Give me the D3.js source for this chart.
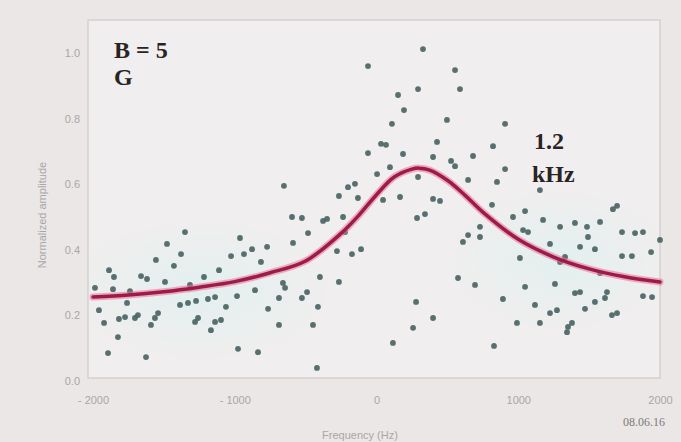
<!DOCTYPE html>
<html><head><meta charset="utf-8">
<script src="https://cdn.jsdelivr.net/npm/d3@7/dist/d3.min.js"></script>
<style>html,body{margin:0;padding:0;background:#ebe7e6;}svg{display:block;}</style>
</head><body>
<svg id="chart" width="681" height="442"></svg>
<script>
// Scatter data: frequency (Hz) and normalized amplitude
const freqHz = [-1351,-1478,-1556,-1379,-1429,-1887,-1852,-1661,-1619,-1492,-1986,-1859,-1217,-1111,-963,-1026,-935,-878,-772,-815,-653,-984,-857,-688,-765,-1958,-1760,-1386,-1330,-1273,-1189,-1139,-1062,-1922,-1817,-1774,-1704,-1683,-1591,-1563,-1541,-1280,-1259,-1139,-1097,-1168,-1824,-1894,-1626,-977,-836,-688,-596,-526,-377,-349,-236,-483,-589,-279,-173,-109,-399,-265,-660,-645,-490,-526,-413,-448,-420,328,-60,554,589,152,293,194,497,109,907,822,427,32,67,-60,187,399,526,554,681,95,4,907,850,646,1153,-201,-152,-265,-131,166,399,448,1668,1697,1048,963,815,286,342,279,399,258,116,575,610,646,695,829,1175,1295,1400,1485,1577,1492,1732,1824,1880,2000,730,730,1034,1069,1224,1436,1541,1732,1802,1937,1012,1330,1048,1259,1400,1436,1626,1612,1880,1944,892,1118,1224,1273,1471,1541,1661,1697,991,1153,1351,1379,1344,293,46,-1739,-1316,1295,-222,1577];
const amplitude = [0.454,0.418,0.369,0.387,0.351,0.338,0.317,0.320,0.311,0.302,0.284,0.280,0.317,0.338,0.436,0.381,0.387,0.402,0.409,0.363,0.595,0.259,0.277,0.253,0.220,0.216,0.238,0.232,0.238,0.244,0.250,0.256,0.226,0.177,0.189,0.195,0.192,0.201,0.171,0.192,0.207,0.180,0.192,0.180,0.186,0.155,0.134,0.085,0.073,0.098,0.088,0.171,0.500,0.497,0.488,0.494,0.500,0.451,0.421,0.396,0.387,0.402,0.317,0.302,0.299,0.284,0.271,0.253,0.226,0.171,0.040,1.012,0.960,0.948,0.890,0.872,0.890,0.826,0.796,0.784,0.784,0.716,0.729,0.723,0.720,0.695,0.692,0.683,0.671,0.655,0.686,0.652,0.631,0.646,0.607,0.613,0.582,0.591,0.601,0.564,0.558,0.561,0.555,0.549,0.524,0.534,0.518,0.500,0.537,0.497,0.509,0.241,0.192,0.162,0.116,0.314,0.424,0.445,0.293,0.107,0.491,0.470,0.482,0.470,0.485,0.439,0.454,0.451,0.454,0.430,0.470,0.439,0.460,0.454,0.418,0.409,0.402,0.381,0.381,0.393,0.375,0.378,0.287,0.296,0.268,0.271,0.271,0.253,0.259,0.256,0.250,0.232,0.207,0.216,0.220,0.241,0.201,0.207,0.177,0.177,0.165,0.177,0.149,0.622,0.552,0.274,0.293,0.363,0.454,0.329];

// Fitted curve
const fitFreq = [-2000,-1750,-1500,-1250,-1000,-750,-500,-250,-125,0,125,250,300,375,500,625,750,1000,1250,1500,1750,2000];
const fitAmp  = [0.256,0.262,0.272,0.286,0.303,0.330,0.366,0.450,0.505,0.568,0.622,0.646,0.649,0.643,0.612,0.566,0.515,0.432,0.378,0.342,0.318,0.302];

const yTicks = [0, 0.2, 0.4, 0.6, 0.8, 1.0];
const xTicks = [-2000, -1000, 0, 1000, 2000];

const svg = d3.select("#chart");
const L = 88, R = 660, T = 20, B = 378;

const x = d3.scaleLinear().domain([-2000, 2000]).range([93, 660]);
const y = d3.scaleLinear().domain([0, 1.1]).range([381, 20.2]);

// plot background
svg.append("rect").attr("x", L).attr("y", T).attr("width", R - L).attr("height", B - T)
  .attr("fill", "#f0eeee");
const defs = svg.append("defs");
const g1 = defs.append("radialGradient").attr("id","tint");
g1.append("stop").attr("offset","0%").attr("stop-color","#dff0ef").attr("stop-opacity",0.8);
g1.append("stop").attr("offset","100%").attr("stop-color","#dff0ef").attr("stop-opacity",0);
svg.append("ellipse").attr("cx", 200).attr("cy", 290).attr("rx", 130).attr("ry", 70).attr("fill","url(#tint)");
svg.append("ellipse").attr("cx", 560).attr("cy", 260).attr("rx", 110).attr("ry", 70).attr("fill","url(#tint)");

// frame
svg.append("rect").attr("x", L).attr("y", T).attr("width", R - L).attr("height", B - T)
  .attr("fill", "none").attr("stroke", "#cfcaca").attr("stroke-width", 1.2);

// axes
const yAxis = d3.axisLeft(y).tickValues(yTicks).tickFormat(d3.format(".1f")).tickSize(0).tickPadding(8);
const gy = svg.append("g").attr("transform", `translate(${L},0)`).call(yAxis);
const xAxis = d3.axisBottom(x).tickValues(xTicks).tickFormat(d => d < 0 ? "- " + Math.abs(d) : d).tickSize(0).tickPadding(18);
const gx = svg.append("g").attr("transform", `translate(0,${B})`).call(xAxis);
[gy, gx].forEach(g => {
  g.select(".domain").remove();
  g.selectAll("text").attr("fill", "#a9a6a6").style("font-family", "Liberation Sans, Arial, sans-serif").style("font-size", "11px");
});

// axis titles
svg.append("text").attr("transform", "translate(46,215) rotate(-90)").attr("text-anchor", "middle")
  .attr("fill", "#a9a6a6").style("font-family", "Liberation Sans, Arial, sans-serif").style("font-size", "11px")
  .text("Normalized amplitude");
svg.append("text").attr("x", 360).attr("y", 439).attr("text-anchor", "middle")
  .attr("fill", "#a9a6a6").style("font-family", "Liberation Sans, Arial, sans-serif").style("font-size", "11px")
  .text("Frequency (Hz)");
svg.append("text").attr("x", 665).attr("y", 426).attr("text-anchor", "end")
  .attr("fill", "#7d7b7b").style("font-family", "Liberation Serif, serif").style("font-size", "12px")
  .text("08.06.16");

// dots
const pts = freqHz.map((f, i) => ({ f, a: amplitude[i] }));
svg.append("g").selectAll("circle").data(pts).join("circle")
  .attr("cx", d => x(d.f)).attr("cy", d => y(d.a)).attr("r", 2.9)
  .attr("fill", "#4a6464").attr("opacity", 0.92);

// fitted curve
const fit = fitFreq.map((f, i) => ({ f, a: fitAmp[i] }));
const line = d3.line().x(d => x(d.f)).y(d => y(d.a)).curve(d3.curveCatmullRom.alpha(0.5));
svg.append("path").datum(fit).attr("d", line).attr("fill", "none")
  .attr("stroke", "#ec6d9a").attr("stroke-width", 7).attr("stroke-opacity", 0.55).attr("stroke-linecap", "round");
svg.append("path").datum(fit).attr("d", line).attr("fill", "none")
  .attr("stroke", "#9c1c46").attr("stroke-width", 3.5).attr("stroke-linecap", "round");

// annotations
const ann = [
  { t: "B = 5", x: 114, y: 58 },
  { t: "G", x: 114, y: 85 },
  { t: "1.2", x: 534, y: 149 },
  { t: "kHz", x: 532, y: 182 }
];
svg.append("g").selectAll("text").data(ann).join("text")
  .attr("x", d => d.x).attr("y", d => d.y).text(d => d.t)
  .attr("fill", "#2a2324").style("font-family", "Liberation Serif, Times New Roman, serif")
  .style("font-weight", "bold").style("font-size", "24px");
</script>
</body></html>
